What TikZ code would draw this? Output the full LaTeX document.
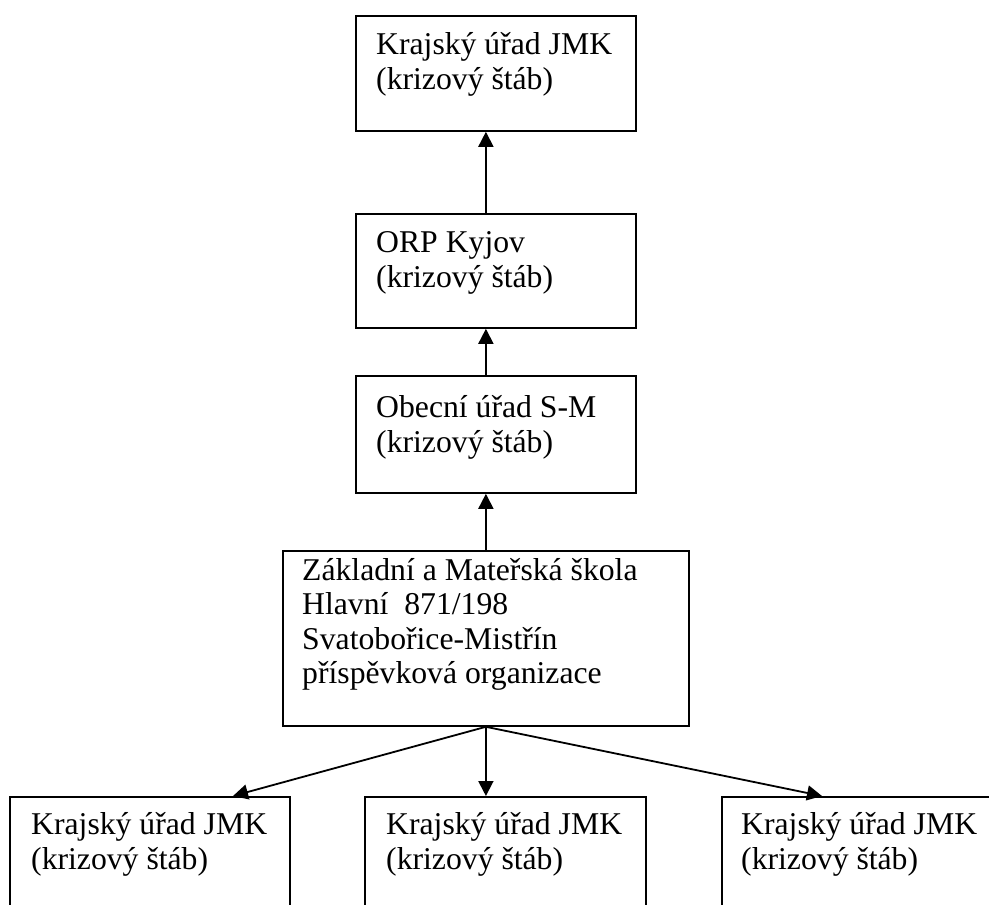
\documentclass[tikz,border=0pt]{standalone}
\usepackage{fontspec}
\setmainfont{Liberation Serif}
\usetikzlibrary{arrows.meta,calc}
\begin{document}
\begin{tikzpicture}[x=1pt,y=-1pt,
  box/.style={draw,line width=1.8pt,rectangle,anchor=north west,inner sep=0pt},
  txt/.style={anchor=base west,inner sep=0pt,font=\fontsize{31.7}{35}\selectfont},
  arr/.style={line width=1.8pt,-{Triangle[length=15pt,width=15pt]}}]
\useasboundingbox (0,0) rectangle (989,905);
\clip (0,0) rectangle (989,905);
% boxes
\node[box,minimum width=280pt,minimum height=115pt] (kraj) at (355,15) {};
\node[box,minimum width=280pt,minimum height=114pt] (orp) at (355,213) {};
\node[box,minimum width=280pt,minimum height=117pt] (obec) at (355,375) {};
\node[box,minimum width=406pt,minimum height=175pt] (zak) at (282,550) {};
\node[box,minimum width=280pt,minimum height=140pt] (bl) at (9,796) {};
\node[box,minimum width=281pt,minimum height=140pt] (bm) at (364,796) {};
\node[box,minimum width=280pt,minimum height=140pt] (br) at (721,796) {};
% texts
\node[txt] (kraj1) at (376,54) {Krajský úřad JMK};
\node[txt] (kraj2) at (376,89) {(krizový štáb)};
\node[txt] (orp1) at (376,252) {ORP Kyjov};
\node[txt] (orp2) at (376,287) {(krizový štáb)};
\node[txt] (obec1) at (376,417) {Obecní úřad S-M};
\node[txt] (obec2) at (376,452) {(krizový štáb)};
\node[txt] (zak1) at (302,580) {Základní a Mateřská škola};
\node[txt] (zak2) at (302,614) {Hlavní~ 871/198};
\node[txt] (zak3) at (302,649) {Svatobořice-Mistřín};
\node[txt] (zak4) at (302,683) {příspěvková organizace};
\node[txt] (bl1) at (31,834) {Krajský úřad JMK};
\node[txt] (bl2) at (31,869) {(krizový štáb)};
\node[txt] (bm1) at (386,834) {Krajský úřad JMK};
\node[txt] (bm2) at (386,869) {(krizový štáb)};
\node[txt] (br1) at (741,834) {Krajský úřad JMK};
\node[txt] (br2) at (741,869) {(krizový štáb)};
% connectors
\draw[arr] (orp.north -| zak.north) -- (kraj.south -| zak.north);
\draw[arr] (obec.north -| zak.north) -- (orp.south -| zak.north);
\draw[arr] (zak.north) -- (obec.south -| zak.north);
\draw[arr] (zak.south) -- (bm.north -| zak.south);
\coordinate (blt) at ($(bl.north west)+(224,0)$);
\coordinate (brt) at ($(br.north west)+(101,0)$);
\draw[arr] (zak.south) -- (blt);
\draw[arr] (zak.south) -- (brt);
\end{tikzpicture}
\end{document}
